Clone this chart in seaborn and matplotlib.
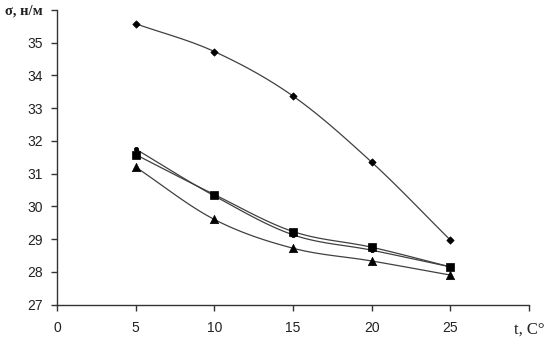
import numpy as np
import pandas as pd
import matplotlib
matplotlib.use("Agg")
import matplotlib.pyplot as plt
import seaborn as sns

# ---- data ----
t = [5, 10, 15, 20, 25]
s_diamond = [35.58, 34.73, 33.37, 31.35, 28.97]
s_circle = [31.75, 30.32, 29.13, 28.66, 28.15]
s_square = [31.58, 30.36, 29.23, 28.75, 28.15]
s_triangle = [31.20, 29.60, 28.72, 28.33, 27.90]
series_names = ["1", "2", "3", "4"]
series_values = [s_diamond, s_circle, s_square, s_triangle]
markers = ["D", "o", "s", "^"]
marker_sizes = [14, 10, 40, 36]
x_ticks = [0, 5, 10, 15, 20, 25, 30]
x_labels = ["0", "5", "10", "15", "20", "25", "t, C°"]
y_ticks = [27, 28, 29, 30, 31, 32, 33, 34, 35, 36]
y_labels = ["27", "28", "29", "30", "31", "32", "33", "34", "35", "σ, н/м"]


def catmull_rom(x, y, n=30):
    x = np.asarray(x, float)
    y = np.asarray(y, float)
    px = np.concatenate([[2 * x[0] - x[1]], x, [2 * x[-1] - x[-2]]])
    py = np.concatenate([[2 * y[0] - y[1]], y, [2 * y[-1] - y[-2]]])
    xs, ys = [], []
    for i in range(1, len(px) - 2):
        tt = np.linspace(0, 1, n, endpoint=(i == len(px) - 3))
        for P, out in ((px, xs), (py, ys)):
            p0, p1, p2, p3 = P[i - 1], P[i], P[i + 1], P[i + 2]
            out.append(0.5 * ((2 * p1) + (-p0 + p2) * tt
                              + (2 * p0 - 5 * p1 + 4 * p2 - p3) * tt ** 2
                              + (-p0 + 3 * p1 - 3 * p2 + p3) * tt ** 3))
    return np.concatenate(xs), np.concatenate(ys)


sns.set_style("white")
plt.rcParams["font.family"] = ["Liberation Sans", "DejaVu Sans"]

fig = plt.figure(figsize=(5.58, 3.47), dpi=100)
ax = fig.add_axes([57 / 558, 1 - 304.5 / 347, (529 - 57) / 558, (304.5 - 10) / 347])

for name, vals, m, ms in zip(series_names, series_values, markers, marker_sizes):
    cx, cy = catmull_rom(t, vals)
    curve = pd.DataFrame({"t": cx, "v": cy})
    sns.lineplot(data=curve, x="t", y="v", ax=ax, color="#404040", lw=0.9,
                 sort=False, estimator=None)
    pts = pd.DataFrame({"t": t, "v": vals})
    sns.scatterplot(data=pts, x="t", y="v", ax=ax, marker=m, s=ms,
                    color="black", edgecolor="black", linewidth=0.5, zorder=5)

ax.set_xlim(0, 30)
ax.set_ylim(27, 36)
ax.set_xticks(x_ticks)
ax.set_yticks(y_ticks)
ax.set_xticklabels(x_labels)
ax.set_yticklabels(y_labels)
ax.set_xlabel("")
ax.set_ylabel("")

for sp in ["top", "right"]:
    ax.spines[sp].set_visible(False)
for sp in ["left", "bottom"]:
    ax.spines[sp].set_color("#333333")
    ax.spines[sp].set_linewidth(1.0)

ax.tick_params(axis="both", which="major", direction="out", length=4,
               width=1.0, color="#333333", labelsize=10, labelcolor="#222222",
               left=True, bottom=True)
ax.tick_params(axis="y", pad=6)
ax.tick_params(axis="x", pad=8)

ax.get_yticklabels()[-1].set_fontfamily("Liberation Serif")
ax.get_yticklabels()[-1].set_fontweight("bold")
ax.get_yticklabels()[-1].set_fontsize(10.5)
ax.get_xticklabels()[-1].set_fontfamily("Liberation Serif")
ax.get_xticklabels()[-1].set_fontsize(12)

fig.savefig("out.png", dpi=100)
